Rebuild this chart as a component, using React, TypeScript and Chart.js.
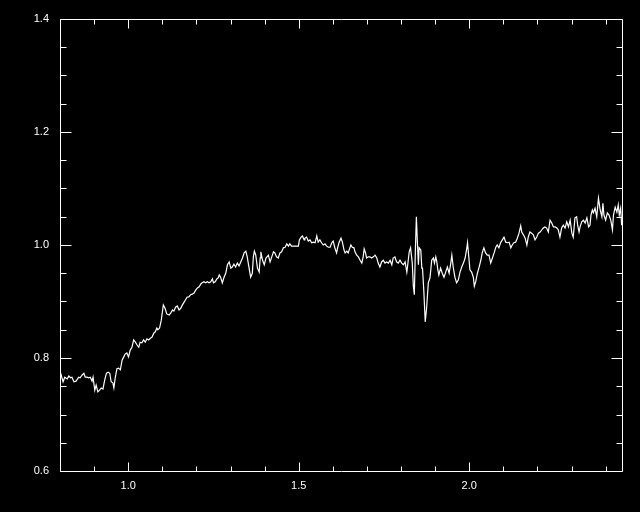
import { useEffect, useRef } from "react";
import { Chart, registerables } from "chart.js";

Chart.register(...registerables);

const wavelengths = [
  0.800, 0.809, 0.814, 0.821, 0.826, 0.831, 0.835, 0.841, 0.847, 0.855,
  0.859, 0.865, 0.870, 0.874, 0.879, 0.884, 0.889, 0.894, 0.897, 0.902,
  0.906, 0.911, 0.916, 0.921, 0.926, 0.931, 0.936, 0.941, 0.946, 0.950,
  0.955, 0.958, 0.962, 0.967, 0.972, 0.977, 0.982, 0.987, 0.991, 0.996,
  1.001, 1.006, 1.011, 1.016, 1.021, 1.026, 1.031, 1.035, 1.040, 1.045,
  1.050, 1.055, 1.060, 1.065, 1.070, 1.075, 1.079, 1.084, 1.087, 1.092,
  1.097, 1.103, 1.108, 1.113, 1.120, 1.125, 1.130, 1.134, 1.139, 1.144,
  1.149, 1.154, 1.159, 1.164, 1.169, 1.173, 1.178, 1.183, 1.188, 1.193,
  1.198, 1.203, 1.208, 1.213, 1.217, 1.222, 1.227, 1.232, 1.237, 1.242,
  1.247, 1.250, 1.255, 1.260, 1.264, 1.267, 1.271, 1.276, 1.281, 1.286,
  1.291, 1.296, 1.301, 1.305, 1.310, 1.315, 1.320, 1.325, 1.330, 1.335,
  1.340, 1.345, 1.349, 1.354, 1.359, 1.364, 1.367, 1.370, 1.374, 1.379,
  1.384, 1.387, 1.389, 1.394, 1.399, 1.404, 1.411, 1.416, 1.421, 1.426,
  1.430, 1.435, 1.440, 1.445, 1.450, 1.455, 1.460, 1.465, 1.470, 1.474,
  1.479, 1.484, 1.489, 1.494, 1.499, 1.502, 1.507, 1.511, 1.516, 1.518,
  1.523, 1.528, 1.533, 1.538, 1.543, 1.548, 1.553, 1.557, 1.562, 1.567,
  1.572, 1.577, 1.582, 1.587, 1.592, 1.597, 1.601, 1.606, 1.611, 1.614,
  1.618, 1.624, 1.628, 1.633, 1.636, 1.641, 1.645, 1.650, 1.653, 1.657,
  1.662, 1.665, 1.670, 1.675, 1.680, 1.685, 1.689, 1.692, 1.696, 1.699,
  1.704, 1.709, 1.714, 1.719, 1.724, 1.729, 1.733, 1.738, 1.743, 1.748,
  1.753, 1.758, 1.763, 1.768, 1.773, 1.777, 1.782, 1.787, 1.792, 1.797,
  1.802, 1.807, 1.812, 1.817, 1.819, 1.824, 1.828, 1.833, 1.836, 1.839,
  1.842, 1.845, 1.848, 1.851, 1.853, 1.858, 1.861, 1.863, 1.867, 1.871,
  1.875, 1.880, 1.885, 1.890, 1.895, 1.898, 1.902, 1.905, 1.908, 1.911,
  1.916, 1.921, 1.926, 1.931, 1.936, 1.941, 1.946, 1.949, 1.953, 1.958,
  1.963, 1.968, 1.973, 1.978, 1.983, 1.988, 1.993, 1.995, 1.999, 2.002,
  2.007, 2.012, 2.015, 2.019, 2.024, 2.029, 2.034, 2.038, 2.043, 2.048,
  2.053, 2.058, 2.063, 2.068, 2.073, 2.078, 2.082, 2.087, 2.092, 2.097,
  2.102, 2.107, 2.112, 2.117, 2.122, 2.126, 2.131, 2.136, 2.141, 2.146,
  2.151, 2.154, 2.159, 2.164, 2.169, 2.173, 2.178, 2.183, 2.188, 2.193,
  2.198, 2.203, 2.208, 2.213, 2.217, 2.222, 2.227, 2.232, 2.237, 2.242,
  2.247, 2.252, 2.257, 2.261, 2.266, 2.271, 2.276, 2.281, 2.286, 2.291,
  2.296, 2.301, 2.305, 2.310, 2.315, 2.318, 2.322, 2.325, 2.330, 2.335,
  2.340, 2.345, 2.350, 2.354, 2.357, 2.361, 2.364, 2.369, 2.374, 2.379,
  2.384, 2.389, 2.392, 2.395, 2.400, 2.405, 2.410, 2.415, 2.420, 2.423,
  2.428, 2.433, 2.437, 2.440, 2.444, 2.447,
];

const flux = [
  0.777, 0.758, 0.766, 0.763, 0.768, 0.765, 0.766, 0.758, 0.759, 0.766,
  0.765, 0.770, 0.773, 0.766, 0.766, 0.765, 0.766, 0.759, 0.766, 0.743,
  0.752, 0.740, 0.743, 0.747, 0.745, 0.761, 0.773, 0.775, 0.773, 0.758,
  0.756, 0.747, 0.765, 0.781, 0.782, 0.779, 0.796, 0.802, 0.807, 0.809,
  0.802, 0.814, 0.819, 0.832, 0.828, 0.823, 0.819, 0.828, 0.827, 0.832,
  0.828, 0.834, 0.832, 0.835, 0.837, 0.844, 0.846, 0.853, 0.850, 0.853,
  0.867, 0.894, 0.888, 0.878, 0.876, 0.880, 0.885, 0.883, 0.890, 0.892,
  0.885, 0.888, 0.894, 0.899, 0.904, 0.908, 0.908, 0.912, 0.913, 0.915,
  0.920, 0.924, 0.926, 0.931, 0.933, 0.935, 0.933, 0.935, 0.933, 0.935,
  0.940, 0.933, 0.935, 0.940, 0.942, 0.947, 0.943, 0.933, 0.943, 0.950,
  0.965, 0.970, 0.959, 0.961, 0.966, 0.961, 0.968, 0.963, 0.970, 0.977,
  0.986, 0.989, 0.979, 0.961, 0.943, 0.950, 0.979, 0.989, 0.982, 0.959,
  0.952, 0.977, 0.988, 0.973, 0.965, 0.977, 0.982, 0.970, 0.979, 0.988,
  0.986, 0.979, 0.977, 0.986, 0.988, 0.995, 0.996, 1.002, 0.998, 1.002,
  0.998, 0.998, 0.998, 0.998, 0.998, 1.009, 1.014, 1.016, 1.009, 1.012,
  1.014, 1.007, 1.009, 1.004, 1.005, 1.004, 1.016, 1.005, 1.009, 1.004,
  1.000, 1.002, 0.998, 0.996, 0.996, 1.004, 1.007, 0.995, 0.986, 0.995,
  1.004, 1.012, 1.005, 0.991, 0.986, 0.989, 0.986, 0.995, 1.000, 0.996,
  0.995, 0.988, 0.982, 0.979, 0.973, 0.968, 0.979, 0.993, 0.986, 0.977,
  0.979, 0.979, 0.977, 0.979, 0.982, 0.977, 0.968, 0.961, 0.970, 0.973,
  0.968, 0.970, 0.968, 0.973, 0.965, 0.977, 0.979, 0.970, 0.968, 0.973,
  0.968, 0.965, 0.970, 0.952, 0.961, 0.988, 0.995, 0.968, 0.929, 0.912,
  0.988, 1.050, 1.005, 0.965, 0.995, 0.991, 0.959, 0.959, 0.917, 0.864,
  0.888, 0.933, 0.942, 0.973, 0.977, 0.968, 0.979, 0.970, 0.956, 0.947,
  0.959, 0.950, 0.943, 0.952, 0.961, 0.950, 0.968, 0.982, 0.961, 0.943,
  0.933, 0.938, 0.952, 0.961, 0.968, 0.977, 0.995, 1.004, 0.977, 0.956,
  0.952, 0.943, 0.927, 0.935, 0.950, 0.961, 0.973, 0.986, 0.995, 0.986,
  0.982, 0.982, 0.968, 0.977, 0.986, 0.996, 1.000, 0.995, 1.004, 1.009,
  1.014, 1.005, 1.004, 1.005, 0.995, 1.000, 1.004, 1.005, 1.012, 1.021,
  1.034, 1.023, 1.018, 1.012, 1.000, 1.014, 1.023, 1.021, 1.018, 1.009,
  1.014, 1.021, 1.023, 1.027, 1.030, 1.032, 1.030, 1.023, 1.044, 1.039,
  1.032, 1.032, 1.030, 1.027, 1.014, 1.030, 1.035, 1.030, 1.041, 1.032,
  1.044, 1.021, 1.014, 1.048, 1.050, 1.035, 1.023, 1.032, 1.041, 1.044,
  1.039, 1.048, 1.032, 1.035, 1.053, 1.062, 1.057, 1.065, 1.050, 1.083,
  1.062, 1.050, 1.074, 1.053, 1.044, 1.057, 1.053, 1.044, 1.027, 1.053,
  1.067, 1.058, 1.071, 1.053, 1.065, 1.035,
];

const xMin = 0.8;
const xMax = 2.448;
const yMin = 0.6;
const yMax = 1.4;

const xTickValues = [0.8, 0.9, 1.0, 1.1, 1.2, 1.3, 1.4, 1.5, 1.6, 1.7, 1.8, 1.9, 2.0, 2.1, 2.2, 2.3, 2.4];
const xLabelValues = [1.0, 1.5, 2.0];
const yTickValues = [0.6, 0.65, 0.7, 0.75, 0.8, 0.85, 0.9, 0.95, 1.0, 1.05, 1.1, 1.15, 1.2, 1.25, 1.3, 1.35, 1.4];
const yLabelValues = [0.6, 0.8, 1.0, 1.2, 1.4];

const isIn = (list: number[], v: number) => list.some((l) => Math.abs(l - v) < 1e-6);

const frameAndTicks = {
  id: "frameAndTicks",
  afterDraw(chart: any) {
    const { ctx, chartArea: a } = chart;
    const xs = chart.scales.x;
    const ys = chart.scales.y;
    const L = Math.round(a.left) + 0.5;
    const R = Math.round(a.right) + 0.5;
    const T = Math.round(a.top) + 0.5;
    const B = Math.round(a.bottom) + 0.5;
    ctx.save();
    ctx.strokeStyle = "#ffffff";
    ctx.lineWidth = 1;
    ctx.beginPath();
    ctx.rect(L, T, R - L, B - T);
    for (const v of xTickValues) {
      const p = Math.round(xs.getPixelForValue(v)) + 0.5;
      const len = isIn(xLabelValues, v) ? 9 : 5;
      ctx.moveTo(p, B);
      ctx.lineTo(p, B - len);
      ctx.moveTo(p, T);
      ctx.lineTo(p, T + len);
    }
    for (const v of yTickValues) {
      const p = Math.round(ys.getPixelForValue(v)) + 0.5;
      const len = isIn(yLabelValues, v) ? 11 : 6;
      ctx.moveTo(L, p);
      ctx.lineTo(L + len, p);
      ctx.moveTo(R, p);
      ctx.lineTo(R - len, p);
    }
    ctx.stroke();
    ctx.restore();
  },
};

export default function App() {
  const canvasRef = useRef<HTMLCanvasElement | null>(null);

  useEffect(() => {
    if (!canvasRef.current) return;
    const points = wavelengths.map((w, i) => ({ x: w, y: flux[i] }));
    const font = { family: "'Liberation Sans', Arial, sans-serif", size: 11 };
    const chart = new Chart(canvasRef.current, {
      type: "line",
      data: {
        datasets: [
          {
            data: points,
            borderColor: "#ffffff",
            borderWidth: 1.2,
            pointRadius: 0,
            tension: 0,
            fill: false,
          },
        ],
      },
      options: {
        animation: false,
        responsive: false,
        devicePixelRatio: 1,
        layout: { padding: { top: 19, right: 18, left: 0, bottom: 0 } },
        plugins: { legend: { display: false }, tooltip: { enabled: false } },
        scales: {
          x: {
            type: "linear",
            min: xMin,
            max: xMax,
            grid: { display: false },
            border: { display: false },
            afterBuildTicks: (s: any) => {
              s.ticks = xTickValues.map((v) => ({ value: v }));
            },
            afterFit: (s: any) => {
              s.height = 41;
            },
            ticks: {
              autoSkip: false,
              maxRotation: 0,
              padding: 0,
              color: "#ffffff",
              font,
              callback: (v: any) => (isIn(xLabelValues, Number(v)) ? Number(v).toFixed(1) : ""),
            },
          },
          y: {
            type: "linear",
            min: yMin,
            max: yMax,
            grid: { display: false },
            border: { display: false },
            afterBuildTicks: (s: any) => {
              s.ticks = yTickValues.map((v) => ({ value: v }));
            },
            afterFit: (s: any) => {
              s.width = 60;
            },
            ticks: {
              autoSkip: false,
              padding: 3,
              color: "#ffffff",
              font,
              callback: (v: any) => (isIn(yLabelValues, Number(v)) ? Number(v).toFixed(1) : ""),
            },
          },
        },
      },
      plugins: [frameAndTicks],
    } as any);
    return () => chart.destroy();
  }, []);

  return (
    <div style={{ position: "fixed", left: 0, top: 0, width: 640, height: 512, background: "#000000" }}>
      <canvas ref={canvasRef} width={640} height={512} style={{ display: "block" }} />
    </div>
  );
}
